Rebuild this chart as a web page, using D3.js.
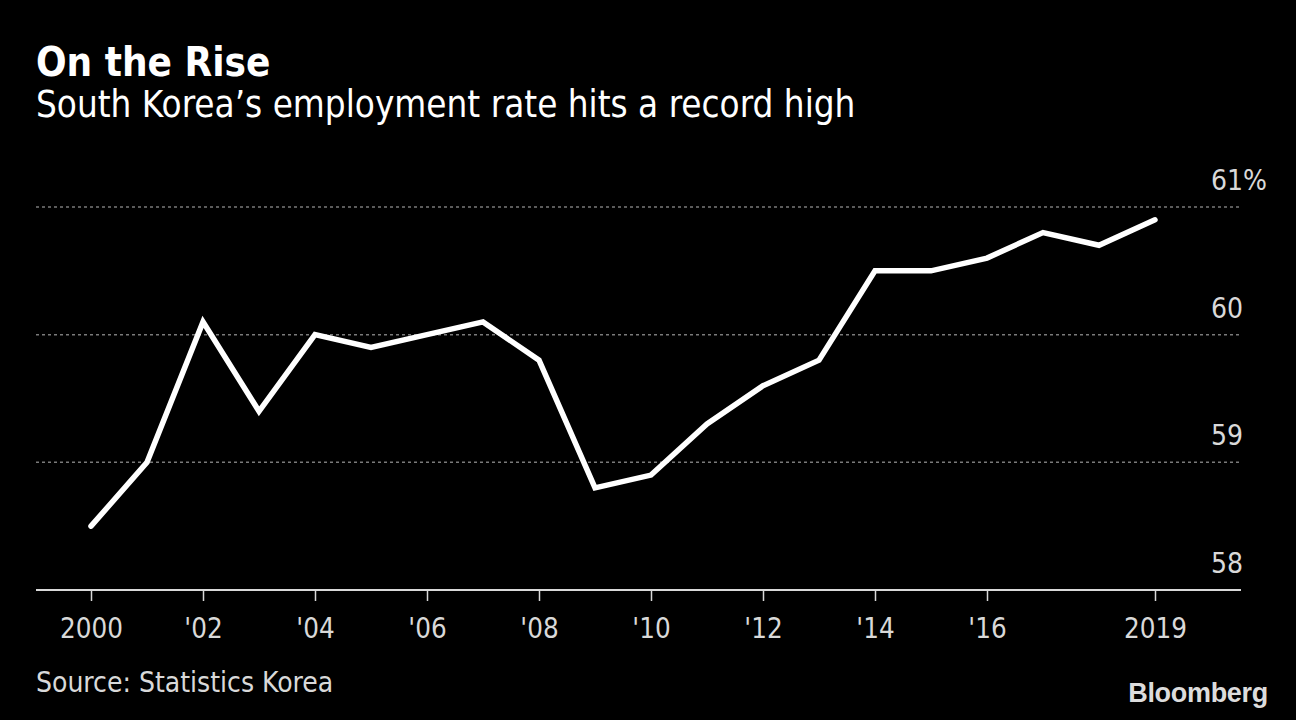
<!DOCTYPE html>
<html>
<head>
<meta charset="utf-8">
<script src="https://cdn.jsdelivr.net/npm/d3@7"></script>
<style>
  html, body { margin: 0; padding: 0; background: #000; }
  svg { display: block; }
  text { font-family: "DejaVu Sans Condensed", "DejaVu Sans", sans-serif; }
</style>
</head>
<body>
<div id="chart"></div>
<script>
// South Korea employment rate, annual, 2000–2019 (Statistics Korea)
const years = [2000, 2001, 2002, 2003, 2004, 2005, 2006, 2007, 2008, 2009,
  2010, 2011, 2012, 2013, 2014, 2015, 2016, 2017, 2018, 2019];
const rates = [58.5, 59.0, 60.1, 59.4, 60.0, 59.9, 60.0, 60.1, 59.8, 58.8,
  58.9, 59.3, 59.6, 59.8, 60.5, 60.5, 60.6, 60.8, 60.7, 60.9];
const xTicks = [2000, 2002, 2004, 2006, 2008, 2010, 2012, 2014, 2016, 2019];
const xTickLabels = ['2000', "'02", "'04", "'06", "'08", "'10", "'12", "'14", "'16", '2019'];
const yTicks = [58, 59, 60, 61];
const yTickLabels = ['58', '59', '60', '61'];

const W = 1296, H = 720;
const left = 36, right = 1241;

const svg = d3.select('#chart').append('svg')
  .attr('width', W).attr('height', H);

svg.append('rect').attr('width', W).attr('height', H).attr('fill', '#000');

const x = d3.scaleLinear().domain([2000, 2019]).range([91, 1155]);
const y = d3.scaleLinear().domain([58, 61]).range([590, 207]);

// titles
svg.append('text')
  .attr('x', 36).attr('y', 76)
  .attr('fill', '#fff')
  .attr('font-size', 40).attr('font-weight', 'bold')
  .text('On the Rise');
svg.append('text')
  .attr('x', 36).attr('y', 117)
  .attr('fill', '#fff')
  .attr('font-size', 36.5)
  .text('South Korea’s employment rate hits a record high');

// gridlines (skip the baseline, which is drawn solid)
svg.append('g').selectAll('line')
  .data(yTicks.filter((d) => d !== 58))
  .join('line')
  .attr('x1', left).attr('x2', right)
  .attr('y1', (d) => y(d)).attr('y2', (d) => y(d))
  .attr('stroke', '#7a7a7a')
  .attr('stroke-width', 1.5)
  .attr('stroke-dasharray', '3,3');

// y labels: numbers right-aligned, % hangs past the edge
svg.append('g').selectAll('text')
  .data(yTicks)
  .join('text')
  .attr('x', 1243)
  .attr('y', (d) => y(d) - 17)
  .attr('text-anchor', 'end')
  .attr('fill', '#d9d9d9')
  .attr('font-size', 28)
  .text((d, i) => yTickLabels[i]);
svg.append('text')
  .attr('x', 1243)
  .attr('y', y(61) - 17)
  .attr('fill', '#d9d9d9')
  .attr('font-size', 28)
  .text('%');

// x axis
const xAxis = d3.axisBottom(x)
  .tickValues(xTicks)
  .tickFormat((d, i) => xTickLabels[i])
  .tickSize(11)
  .tickSizeOuter(0)
  .tickPadding(17);
const gx = svg.append('g')
  .attr('transform', `translate(0,${y(58)})`)
  .call(xAxis);
gx.select('.domain').remove();
gx.selectAll('.tick line').attr('stroke', '#d9d9d9').attr('stroke-width', 1.5);
gx.selectAll('.tick text')
  .attr('fill', '#d9d9d9')
  .attr('font-size', 27.5)
  .attr('font-family', '"DejaVu Sans Condensed", "DejaVu Sans", sans-serif');
svg.append('line')
  .attr('x1', left).attr('x2', right)
  .attr('y1', y(58)).attr('y2', y(58))
  .attr('stroke', '#d9d9d9').attr('stroke-width', 2);

// the series
const line = d3.line()
  .x((d, i) => x(years[i]))
  .y((d) => y(d));
svg.append('path')
  .datum(rates)
  .attr('d', line)
  .attr('fill', 'none')
  .attr('stroke', '#fff')
  .attr('stroke-width', 5.5)
  .attr('stroke-linejoin', 'miter')
  .attr('stroke-linecap', 'round');

// footer
svg.append('text')
  .attr('x', 36).attr('y', 692)
  .attr('fill', '#d9d9d9')
  .attr('font-size', 28)
  .text('Source: Statistics Korea');
svg.append('text')
  .attr('x', 1268).attr('y', 702)
  .attr('text-anchor', 'end')
  .attr('fill', '#dcdcdc')
  .attr('font-size', 27).attr('font-weight', 'bold')
  .attr('letter-spacing', -0.3)
  .style('font-family', '"Liberation Sans", Arial, sans-serif')
  .text('Bloomberg');
</script>
</body>
</html>
